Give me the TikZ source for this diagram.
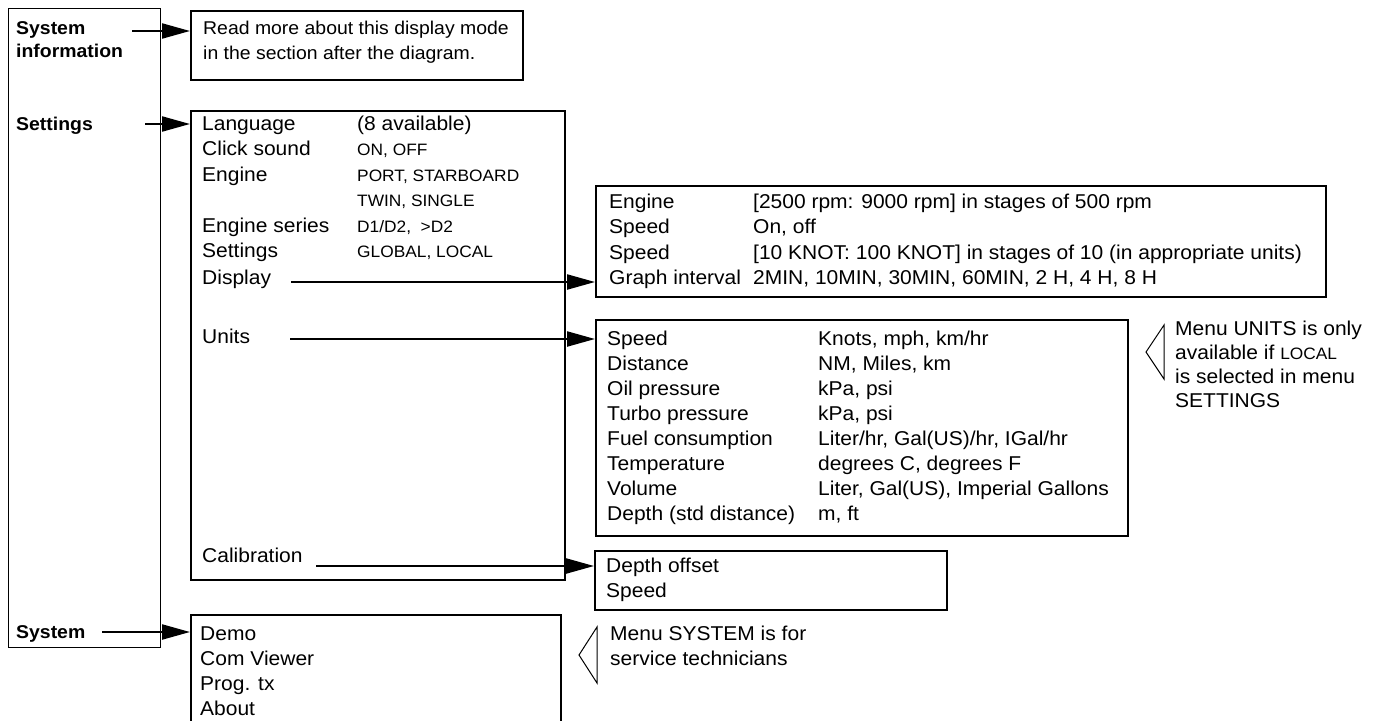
\documentclass[tikz,border=0pt]{standalone}
\usepackage{fontspec}
\setmainfont[FakeStretch=1.05]{Liberation Sans}
\usetikzlibrary{positioning,arrows.meta}
\tikzset{every entry/.style={anchor=base west, inner sep=0pt},
	entry/.style={every entry, font=\fontsize{20}{24}\selectfont},
	smallentry/.style={every entry, font=\fontsize{16.5}{20}\selectfont},
	infoentry/.style={every entry, font=\fontsize{18.5}{22}\selectfont},
	headentry/.style={every entry, font=\fontsize{18.5}{22}\selectfont\bfseries},
	menubox/.style={draw, line width=1.8pt, anchor=north west, inner sep=0pt},
	sidebox/.style={draw, line width=1.3pt, anchor=north west, inner sep=0pt},
	menuarrow/.style={-{Triangle[length=28pt,width=15pt]}, line width=2.2pt},
	pointer/.style={draw, line width=1pt, line join=miter}}

\begin{document}
\begin{tikzpicture}[x=1pt,y=-1pt]
	\useasboundingbox (0,0) rectangle (1383,720);
	\node[sidebox, minimum width=152, minimum height=639] (side) at (8,8) {};
	\node[headentry] (h-sysinfo) at (16,34) {System};
	\node[headentry] (h-sysinfo2) at (16,57) {information};
	\node[headentry] (h-settings) at (16,130) {Settings};
	\node[headentry] (h-system) at (16,638) {System};

	\node[menubox, minimum width=332, minimum height=69] (info) at (190,10) {};
	\node[infoentry] (info-1) at (203,34) {Read more about this display mode};
	\node[infoentry] (info-2) at (203,59) {in the section after the diagram.};

	\node[menubox, minimum width=374, minimum height=469] (settings) at (190,110) {};
	\node[entry] (s-lang) at (202,130) {Language};
	\node[entry] (s-lang-v) at (357,130) {(8 available)};
	\node[entry] (s-click) at (202,155) {Click sound};
	\node[smallentry] (s-click-v) at (357,155) {ON, OFF};
	\node[entry] (s-engine) at (202,181) {Engine};
	\node[smallentry] (s-engine-v) at (357,181) {PORT, STARBOARD};
	\node[smallentry] (s-engine-w) at (357,206) {TWIN, SINGLE};
	\node[entry] (s-series) at (202,232) {Engine series};
	\node[smallentry] (s-series-v) at (357,232) {D1/D2,~~>D2};
	\node[entry] (s-settings) at (202,257) {Settings};
	\node[smallentry] (s-settings-v) at (357,257) {GLOBAL, LOCAL};
	\node[entry] (s-display) at (202,284) {Display};
	\node[entry] (s-units) at (202,343) {Units};
	\node[entry] (s-calib) at (202,562) {Calibration};

	\node[menubox, minimum width=730, minimum height=111] (display) at (595,185) {};
	\node[entry] (d-engine) at (609,208) {Engine};
	\node[entry] (d-engine-v) at (753,208) {[2500 rpm: 9000 rpm] in stages of 500 rpm};
	\node[entry] (d-speed) at (609,233) {Speed};
	\node[entry] (d-speed-v) at (753,233) {On, off};
	\node[entry] (d-speed2) at (609,259) {Speed};
	\node[entry] (d-speed2-v) at (753,259) {[10 KNOT: 100 KNOT] in stages of 10 (in appropriate units)};
	\node[entry] (d-graph) at (609,284) {Graph interval};
	\node[entry] (d-graph-v) at (753,284) {2MIN, 10MIN, 30MIN, 60MIN, 2 H, 4 H, 8 H};

	\node[menubox, minimum width=532, minimum height=216] (units) at (595,319) {};
	\node[entry] (u-speed) at (607,345) {Speed};
	\node[entry] (u-speed-v) at (818,345) {Knots, mph, km/hr};
	\node[entry] (u-dist) at (607,370) {Distance};
	\node[entry] (u-dist-v) at (818,370) {NM, Miles, km};
	\node[entry] (u-oil) at (607,395) {Oil pressure};
	\node[entry] (u-oil-v) at (818,395) {kPa, psi};
	\node[entry] (u-turbo) at (607,420) {Turbo pressure};
	\node[entry] (u-turbo-v) at (818,420) {kPa, psi};
	\node[entry] (u-fuel) at (607,445) {Fuel consumption};
	\node[entry] (u-fuel-v) at (818,445) {Liter/hr, Gal(US)/hr, IGal/hr};
	\node[entry] (u-temp) at (607,470) {Temperature};
	\node[entry] (u-temp-v) at (818,470) {degrees C, degrees F};
	\node[entry] (u-vol) at (607,495) {Volume};
	\node[entry] (u-vol-v) at (818,495) {Liter, Gal(US), Imperial Gallons};
	\node[entry] (u-depth) at (607,520) {Depth (std distance)};
	\node[entry] (u-depth-v) at (818,520) {m, ft};

	\node[menubox, minimum width=352, minimum height=59] (calib) at (594,550) {};
	\node[entry] (c-depth) at (606,572) {Depth offset};
	\node[entry] (c-speed) at (606,597) {Speed};

	\node[menubox, minimum width=370, minimum height=120] (system) at (190,614) {};
	\node[entry] (y-demo) at (200,640) {Demo};
	\node[entry] (y-com) at (200,665) {Com Viewer};
	\node[entry] (y-prog) at (200,690) {Prog. tx};
	\node[entry] (y-about) at (200,715) {About};

	\coordinate (unitstip) at (1146,352);
	\draw[pointer] (unitstip) -- ++(18,-27) -- ++(0,54) -- cycle;
	\node[entry] (n-units1) at (1175,335) {Menu UNITS is only};
	\node[entry] (n-units2) at (1175,359) {available if {\fontsize{16.5}{20}\selectfont LOCAL}};
	\node[entry] (n-units3) at (1175,383) {is selected in menu};
	\node[entry] (n-units4) at (1175,407) {SETTINGS};

	\coordinate (systemtip) at (579,655);
	\draw[pointer] (systemtip) -- ++(18,-28) -- ++(0,56) -- cycle;
	\node[entry] (n-system1) at (610,640) {Menu SYSTEM is for};
	\node[entry] (n-system2) at (610,665) {service technicians};

	\coordinate (a-sysinfo) at (132,31);
	\coordinate (a-settings) at (145,124);
	\coordinate (a-display) at (291,282);
	\coordinate (a-units) at (290,339);
	\coordinate (a-calib) at (316,566);
	\coordinate (a-system) at (102,632);
	\draw[menuarrow] (a-sysinfo) -- (a-sysinfo -| info.west);
	\draw[menuarrow] (a-settings) -- (a-settings -| settings.west);
	\draw[menuarrow] (a-display) -- (a-display -| display.west);
	\draw[menuarrow] (a-units) -- (a-units -| units.west);
	\draw[menuarrow] (a-calib) -- (a-calib -| calib.west);
	\draw[menuarrow] (a-system) -- (a-system -| system.west);
\end{tikzpicture}
\end{document}
